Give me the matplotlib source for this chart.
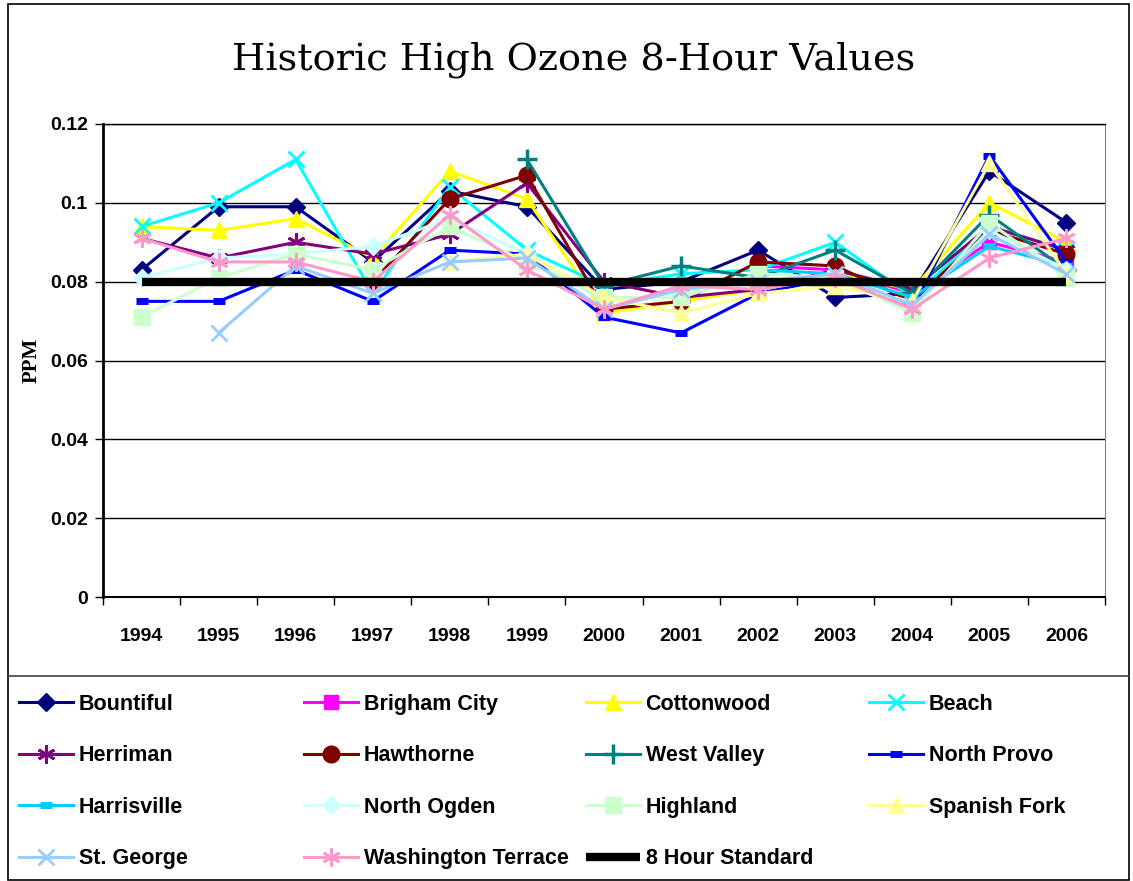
import numpy as np
import matplotlib.pyplot as plt
from matplotlib.patches import Rectangle
from matplotlib.lines import Line2D

nan = np.nan

years = ['1994', '1995', '1996', '1997', '1998', '1999', '2000',
         '2001', '2002', '2003', '2004', '2005', '2006']

bountiful = [0.083, 0.099, 0.099, 0.085, 0.103, 0.099, 0.078, 0.080, 0.088, 0.076, 0.077, 0.108, 0.095]
brigham_city = [nan, nan, nan, nan, nan, nan, nan, nan, 0.084, 0.083, 0.077, 0.090, 0.085]
cottonwood = [0.094, 0.093, 0.096, 0.086, 0.108, 0.101, 0.072, 0.075, 0.078, 0.082, 0.078, 0.100, 0.090]
beach = [0.094, 0.100, 0.111, 0.077, 0.104, 0.088, 0.079, 0.082, 0.083, 0.090, 0.076, 0.094, 0.088]
herriman = [0.091, 0.086, 0.090, 0.087, 0.092, 0.105, 0.080, 0.076, 0.078, 0.083, 0.078, 0.094, 0.088]
hawthorne = [nan, nan, nan, 0.080, 0.101, 0.107, 0.073, 0.075, 0.085, 0.084, 0.075, 0.093, 0.087]
west_valley = [nan, nan, nan, nan, nan, 0.111, 0.079, 0.084, 0.081, 0.088, 0.077, 0.097, 0.083]
north_provo = [0.075, 0.075, 0.083, 0.075, 0.088, 0.087, 0.071, 0.067, 0.077, 0.081, 0.073, 0.112, 0.085]
harrisville = [nan, nan, nan, nan, nan, nan, nan, nan, 0.083, 0.082, 0.076, 0.089, 0.084]
north_ogden = [0.081, 0.086, 0.087, 0.089, 0.096, 0.087, 0.075, 0.077, 0.081, 0.080, 0.073, 0.093, 0.083]
highland = [0.071, 0.081, 0.087, 0.083, 0.094, 0.085, 0.076, 0.076, 0.082, 0.081, 0.072, 0.095, 0.081]
spanish_fork = [nan, nan, nan, nan, 0.085, 0.087, 0.076, 0.072, 0.077, 0.079, 0.075, 0.110, 0.082]
st_george = [nan, 0.067, 0.084, 0.077, 0.085, 0.086, 0.073, 0.078, 0.080, 0.082, 0.074, 0.092, 0.082]
washington_terrace = [0.091, 0.085, 0.085, 0.080, 0.097, 0.083, 0.073, 0.079, 0.078, 0.081, 0.073, 0.086, 0.091]
standard = [0.08] * 13

# name, values, color, marker, size, edge width
series = [
    ('Bountiful', bountiful, '#000080', 'D', 9, 1),
    ('Brigham City', brigham_city, '#FF00FF', 's', 10, 1),
    ('Cottonwood', cottonwood, '#FFFF00', '^', 12, 1),
    ('Beach', beach, '#00FFFF', 'x', 12, 2),
    ('Herriman', herriman, '#800080', (6, 2, 0), 13, 2),
    ('Hawthorne', hawthorne, '#800000', 'o', 12, 1),
    ('West Valley', west_valley, '#008080', '+', 14, 2.5),
    ('North Provo', north_provo, '#0000FF', '_', 9, 5),
    ('Harrisville', harrisville, '#00CCFF', '_', 9, 5),
    ('North Ogden', north_ogden, '#CCFFFF', 'D', 9, 1),
    ('Highland', highland, '#CCFFCC', 's', 12, 1),
    ('Spanish Fork', spanish_fork, '#FFFF99', '^', 12, 1),
    ('St. George', st_george, '#99CCFF', 'x', 12, 2),
    ('Washington Terrace', washington_terrace, '#FF99CC', (6, 2, 0), 13, 2),
]

W, H = 1133, 881
fig = plt.figure(figsize=(W / 100, H / 100), dpi=100)
ax = fig.add_axes([103 / W, 1 - 597 / H, (1105 - 103) / W, (597 - 124) / H])

x = np.arange(len(years))
handles = []
for name, vals, col, mk, ms, mew in series:
    ln, = ax.plot(x, vals, color=col, lw=2.2, marker=mk, ms=ms, mfc=col, mec=col,
                  mew=mew, label=name)
    handles.append(ln)
std, = ax.plot(x, standard, color='black', lw=6, label='8 Hour Standard',
               solid_capstyle='butt')
handles.append(std)

ax.set_xlim(-0.5, len(years) - 0.5)
ax.set_ylim(0, 0.12)
ax.set_xticks(x)
ax.set_xticklabels(years)
ax.set_xticks(np.arange(-0.5, len(years)), minor=True)
ax.tick_params(axis='x', which='major', length=0, pad=22)
ax.tick_params(axis='x', which='minor', length=6, width=1, direction='out')
ax.set_yticks([0, 0.02, 0.04, 0.06, 0.08, 0.1, 0.12])
ax.set_yticklabels(['0', '0.02', '0.04', '0.06', '0.08', '0.1', '0.12'])
ax.tick_params(axis='y', length=6, width=1, direction='out', pad=5)
for lab in ax.get_xticklabels() + ax.get_yticklabels():
    lab.set_fontfamily('Liberation Sans')
    lab.set_fontweight('bold')
    lab.set_fontsize(14)
ax.yaxis.grid(True, color='black', lw=1)
ax.set_axisbelow(True)
ax.spines['left'].set_linewidth(2)
ax.spines['bottom'].set_linewidth(1.5)
ax.spines['right'].set_color('#808080')
ax.spines['top'].set_linewidth(1)

ax.set_ylabel('PPM', fontfamily='Liberation Serif', fontweight='bold', fontsize=15,
              labelpad=6)

fig.text(574 / W, 1 - 60 / H, 'Historic High Ozone 8-Hour Values',
         fontfamily='DejaVu Serif', fontsize=27.5, ha='center', va='center')

# outer frame and legend separator
fig.patches.append(Rectangle((8 / W, 1 / H), (1129 - 8) / W, (877 - 1) / H,
                             transform=fig.transFigure, fill=False, lw=1.2,
                             edgecolor='black'))
fig.lines.append(Line2D([8 / W, 1129 / W], [1 - 676 / H, 1 - 676 / H],
                        transform=fig.transFigure, color='#404040', lw=1.2))

# legend, row-major in 4 fixed-width columns
col_x = [8, 293, 575, 858]
for c in range(4):
    idx = list(range(c, len(handles), 4))
    fig.legend([handles[i] for i in idx], [handles[i].get_label() for i in idx],
               loc='upper left', bbox_to_anchor=(col_x[c] / W, 1 - 683 / H),
               frameon=False, borderpad=0, handlelength=2.5, handletextpad=0.28,
               labelspacing=1.42, prop={'family': 'Liberation Sans', 'weight': 'bold',
                                        'size': 15.5})

fig.savefig('out.png', dpi=100)
